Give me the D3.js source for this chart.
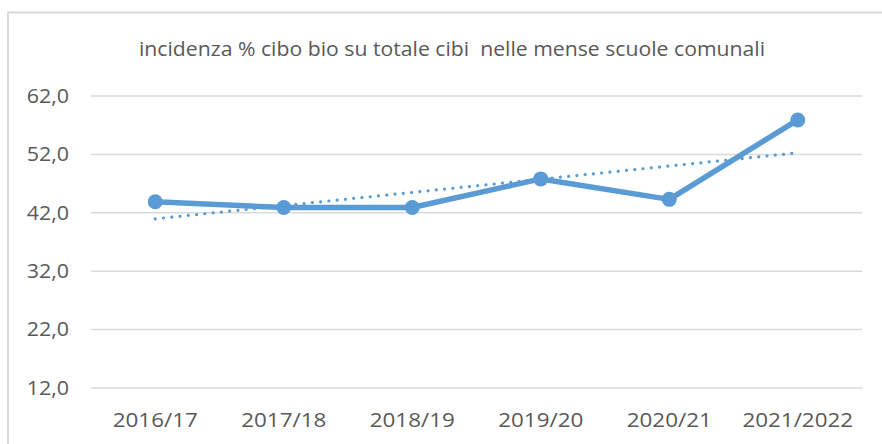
<!DOCTYPE html>
<html>
<head>
<meta charset="utf-8">
<script src="https://cdn.jsdelivr.net/npm/d3@7"></script>
<style>
  html, body { margin: 0; padding: 0; background: #fff; }
  svg { display: block; }
  text { font-family: "Open Sans", "Noto Sans", sans-serif; fill: #595959; }
</style>
</head>
<body>
<svg id="chart" width="882" height="444"></svg>
<script>
const titleText = "incidenza % cibo bio su totale cibi  nelle mense scuole comunali";
const categories = ["2016/17", "2017/18", "2018/19", "2019/20", "2020/21", "2021/2022"];
const values = [43.9, 42.9, 42.9, 47.8, 44.3, 57.9];
const yTicks = [12, 22, 32, 42, 52, 62];

const svg = d3.select("#chart");
const W = 882, H = 444;
const m = { left: 91, right: 20 };

function stretch(sel, k) {
  sel.each(function () {
    const w = this.getComputedTextLength();
    d3.select(this).attr("textLength", w * k).attr("lengthAdjust", "spacingAndGlyphs");
  });
}

// chart frame (cut at right/bottom as in reference)
svg.append("path")
  .attr("d", `M8,${H + 2} L8,12.5 L${W + 2},12.5`)
  .attr("fill", "none").attr("stroke", "#d9d9d9").attr("stroke-width", 2);

const x = d3.scaleBand().domain(categories).range([m.left, W - m.right]);
const y = d3.scaleLinear().domain([12, 62]).range([388, 96]);

// gridlines
svg.append("g").selectAll("line").data(yTicks).join("line")
  .attr("x1", m.left).attr("x2", W - m.right)
  .attr("y1", d => y(d)).attr("y2", d => y(d))
  .attr("stroke", "#d9d9d9").attr("stroke-width", 1.5);

// y axis labels
const yAxis = d3.axisLeft(y).tickValues(yTicks)
  .tickFormat(d => d3.format(".1f")(d).replace(".", ","))
  .tickSize(0).tickPadding(0);
const gy = svg.append("g").attr("transform", "translate(69,0)").call(yAxis);
gy.select(".domain").remove();
gy.selectAll("text").attr("font-size", 19.5).attr("fill", "#595959")
  .style("font-family", '"Open Sans", sans-serif').call(stretch, 1.1);

// x axis labels
const xAxis = d3.axisBottom(x).tickSize(0).tickPadding(0);
const gx = svg.append("g").attr("transform", "translate(0,413)").call(xAxis);
gx.select(".domain").remove();
gx.selectAll("text").attr("font-size", 20).attr("fill", "#595959")
  .style("font-family", '"Open Sans", sans-serif').call(stretch, 1.12);

// trendline (least squares)
const n = values.length;
const xs = d3.range(n);
const mx = d3.mean(xs), my = d3.mean(values);
const slope = d3.sum(xs, i => (i - mx) * (values[i] - my)) / d3.sum(xs, i => (i - mx) ** 2);
const icpt = my - slope * mx;
const cx = i => x(categories[i]) + x.bandwidth() / 2;
svg.append("line")
  .attr("x1", cx(0)).attr("y1", y(icpt))
  .attr("x2", cx(n - 1)).attr("y2", y(icpt + slope * (n - 1)))
  .attr("stroke", "#5b9bd5").attr("stroke-width", 3.2)
  .attr("stroke-linecap", "round").attr("stroke-dasharray", "0.01 8.3");

// series line
const line = d3.line().x((d, i) => cx(i)).y(d => y(d));
svg.append("path").datum(values)
  .attr("d", line).attr("fill", "none")
  .attr("stroke", "#5b9bd5").attr("stroke-width", 5.5).attr("stroke-linejoin", "round");

svg.append("g").selectAll("circle").data(values).join("circle")
  .attr("cx", (d, i) => cx(i)).attr("cy", d => y(d)).attr("r", 7.5)
  .attr("fill", "#5b9bd5");

// title
svg.append("text")
  .attr("x", 452).attr("y", 56)
  .attr("text-anchor", "middle")
  .attr("font-size", 20)
  .style("white-space", "pre")
  .attr("xml:space", "preserve")
  .text(titleText)
  .call(stretch, 1.06);
</script>
</body>
</html>
